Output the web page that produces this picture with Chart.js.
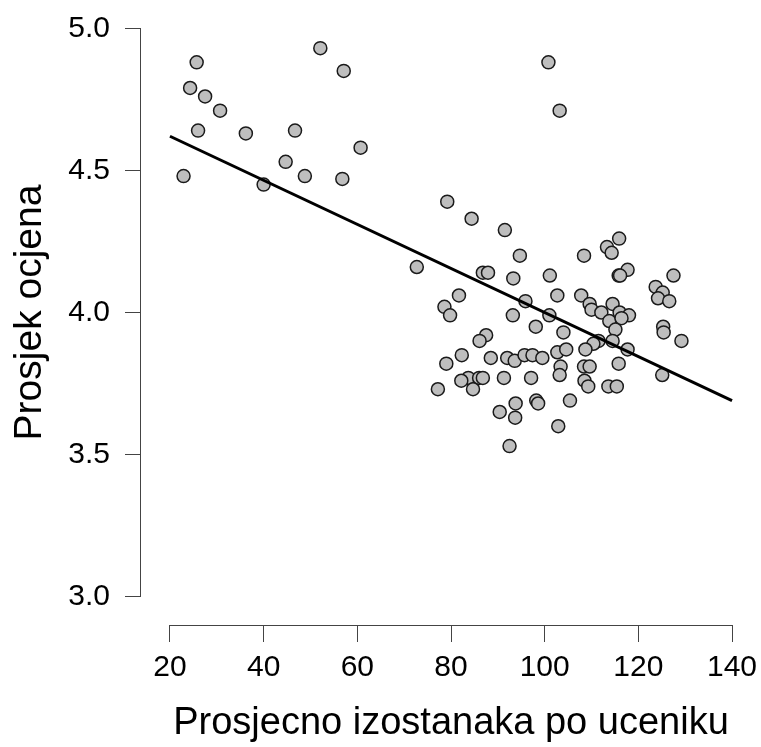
<!DOCTYPE html>
<html>
<head>
<meta charset="utf-8">
<script src="https://cdn.jsdelivr.net/npm/chart.js@4/dist/chart.umd.min.js"></script>
<style>
body { margin: 0; background: #fff; }
#wrap { width: 761px; height: 747px; }
</style>
</head>
<body>
<div id="wrap"><canvas id="dataChart" width="761" height="747"></canvas></div>
<script>
// average absences per pupil (x) and average grade (y), one entry per school
const absences = [
    25.7, 24.3, 27.5, 30.7, 26.0, 36.2, 46.7, 22.9, 44.7, 40.0, 48.8, 52.1, 57.1, 60.7, 56.8,
    100.8, 103.2,
    79.2, 84.4, 91.5, 94.7, 108.4, 72.7, 86.8, 87.9, 93.3, 101.1, 81.7, 102.7, 107.8, 78.6,
    79.8, 95.9, 93.2, 101.0, 98.1, 104.0, 87.5, 86.1, 82.3, 79.0, 88.5, 92.0, 93.6, 95.7,
    97.4, 99.5, 102.7, 104.6, 103.4, 103.2, 83.7, 82.2, 86.0, 86.8, 84.7, 77.2, 91.3, 97.1,
    93.8, 98.2, 98.6, 105.4, 90.4, 93.7, 102.9, 92.5,
    115.9, 113.3, 114.3, 117.7, 115.8, 116.1, 127.5, 123.7, 125.2, 124.2, 126.6, 109.6, 110.0,
    112.1, 114.5, 116.0, 118.0, 113.8, 116.4, 115.1, 125.3, 125.4, 129.2, 111.5, 110.4, 114.5,
    108.7, 117.7, 115.8, 108.4, 109.6, 108.5, 109.3, 113.6, 115.4, 125.1
];
const grades = [
    4.88, 4.79, 4.76, 4.71, 4.64, 4.63, 4.64, 4.48, 4.53, 4.45, 4.48, 4.93, 4.85, 4.58, 4.47,
    4.88, 4.71,
    4.39, 4.33, 4.29, 4.20, 4.20, 4.16, 4.14, 4.14, 4.12, 4.13, 4.06, 4.06, 4.06, 4.02,
    3.99, 4.04, 3.99, 3.99, 3.95, 3.93, 3.92, 3.90, 3.85, 3.82, 3.84, 3.84, 3.83, 3.85,
    3.85, 3.84, 3.86, 3.87, 3.81, 3.78, 3.77, 3.76, 3.77, 3.77, 3.73, 3.73, 3.77, 3.77,
    3.68, 3.69, 3.68, 3.69, 3.65, 3.63, 3.60, 3.53,
    4.26, 4.23, 4.21, 4.15, 4.13, 4.13, 4.13, 4.09, 4.07, 4.05, 4.04, 4.03, 4.01,
    4.00, 4.03, 4.00, 3.99, 3.97, 3.98, 3.94, 3.95, 3.93, 3.90, 3.90, 3.89, 3.90,
    3.87, 3.87, 3.82, 3.81, 3.81, 3.76, 3.74, 3.74, 3.74, 3.78
];
// regression line end points
const fitX = [20, 140];
const fitY = [4.62, 3.69];

const xTicks = [20, 40, 60, 80, 100, 120, 140];
const yTicks = [3.0, 3.5, 4.0, 4.5, 5.0];

const xTitle = 'Prosjecno izostanaka po uceniku';
const yTitle = 'Prosjek ocjena';

const fontFamily = '"Liberation Sans", Arial, sans-serif';
const axisColor = '#444';

// R style axes: line only from first to last tick
const rAxes = {
    id: 'rAxes',
    afterDraw(chart) {
        const ctx = chart.ctx;
        const xs = chart.scales.x;
        const ys = chart.scales.y;
        ctx.save();
        ctx.strokeStyle = axisColor;
        ctx.lineWidth = 1;
        ctx.beginPath();
        ctx.moveTo(xs.getPixelForValue(xTicks[0]), xs.top + 0.5);
        ctx.lineTo(xs.getPixelForValue(xTicks[xTicks.length - 1]), xs.top + 0.5);
        ctx.moveTo(ys.right - 0.5, ys.getPixelForValue(yTicks[0]));
        ctx.lineTo(ys.right - 0.5, ys.getPixelForValue(yTicks[yTicks.length - 1]));
        ctx.stroke();
        ctx.restore();
    }
};

// keep the plot region fixed, no extra room for overflowing labels
function noPadding(s) {
    s.paddingLeft = 0;
    s.paddingRight = 0;
    s.paddingTop = 0;
    s.paddingBottom = 0;
}

const points = absences.map((v, i) => ({x: v, y: grades[i]}));
const fitLine = fitX.map((v, i) => ({x: v, y: fitY[i]}));

new Chart(document.getElementById('dataChart'), {
    type: 'scatter',
    data: {
        datasets: [
            {
                label: 'fit',
                data: fitLine,
                showLine: true,
                borderColor: '#000',
                borderWidth: 3,
                pointRadius: 0,
                fill: false
            },
            {
                label: 'schools',
                data: points,
                pointRadius: 6.5,
                backgroundColor: '#bebebe',
                borderColor: '#1a1a1a',
                borderWidth: 1.5
            }
        ]
    },
    options: {
        responsive: false,
        animation: false,
        layout: {
            autoPadding: false,
            padding: {top: -1, right: -1, left: 0, bottom: 0}
        },
        scales: {
            x: {
                type: 'linear',
                min: 13.815,
                max: 146.185,
                afterBuildTicks: (s) => { s.ticks = xTicks.map(v => ({value: v})); },
                afterFit: (s) => { s.height = 122; noPadding(s); },
                ticks: {
                    color: '#000',
                    padding: 8,
                    maxRotation: 0,
                    autoSkip: false,
                    font: {family: fontFamily, size: 30}
                },
                grid: {
                    display: true,
                    drawOnChartArea: false,
                    drawTicks: true,
                    tickLength: 17,
                    color: axisColor
                },
                border: {display: false},
                title: {
                    display: true,
                    text: xTitle,
                    color: '#000',
                    padding: {top: 0, bottom: 1},
                    font: {family: fontFamily, size: 38}
                }
            },
            y: {
                type: 'linear',
                min: 2.9006,
                max: 5.0994,
                afterBuildTicks: (s) => { s.ticks = yTicks.map(v => ({value: v})); },
                afterFit: (s) => { s.width = 141; noPadding(s); },
                ticks: {
                    color: '#000',
                    padding: 15,
                    autoSkip: false,
                    callback: (v) => Number(v).toFixed(1),
                    font: {family: fontFamily, size: 30}
                },
                grid: {
                    display: true,
                    drawOnChartArea: false,
                    drawTicks: true,
                    tickLength: 16,
                    color: axisColor
                },
                border: {display: false},
                title: {
                    display: true,
                    text: yTitle,
                    color: '#000',
                    padding: {top: 7, bottom: 0},
                    font: {family: fontFamily, size: 39}
                }
            }
        },
        plugins: {
            legend: {display: false},
            tooltip: {enabled: false}
        }
    },
    plugins: [rAxes]
});
</script>
</body>
</html>
